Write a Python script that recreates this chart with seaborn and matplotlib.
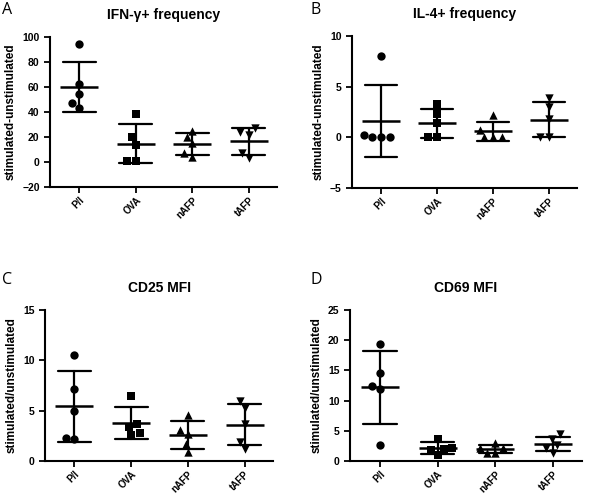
import numpy as np
import pandas as pd
import matplotlib
matplotlib.use("Agg")
import matplotlib.pyplot as plt
import seaborn as sns

sns.set_style("ticks")
plt.rcParams['font.family'] = ['Liberation Sans', 'DejaVu Sans']
plt.rcParams.update({"text.color": "black", "axes.labelcolor": "black",
                     "xtick.color": "black", "ytick.color": "black",
                     "axes.edgecolor": "black"})

groups = ["P/I", "OVA", "nAFP", "tAFP"]
markers = ["o", "s", "^", "v"]

# values, 5 per group
ifng = {
    "P/I": [94, 62, 54, 47, 43],
    "OVA": [38, 20, 14, 1, 1],
    "nAFP": [25, 20, 15, 7, 4],
    "tAFP": [27, 24, 22, 7, 3],
}
il4 = {
    "P/I": [8.0, 0.05, 0.0, 0.0, 0.2],
    "OVA": [3.3, 2.3, 1.4, 0.0, 0.0],
    "nAFP": [2.2, 0.7, 0.0, 0.0, 0.0],
    "tAFP": [3.9, 3.0, 1.8, 0.0, 0.0],
}
cd25 = {
    "P/I": [10.5, 7.2, 5.0, 2.2, 2.3],
    "OVA": [6.5, 3.7, 3.4, 2.8, 2.6],
    "nAFP": [4.6, 3.1, 2.7, 1.7, 0.9],
    "tAFP": [6.0, 5.3, 3.7, 1.9, 1.2],
}
cd69 = {
    "P/I": [19.3, 14.5, 12.5, 12.0, 2.6],
    "OVA": [3.7, 2.1, 2.0, 1.9, 1.0],
    "nAFP": [3.0, 2.1, 2.1, 1.3, 1.3],
    "tAFP": [4.4, 3.7, 2.6, 2.1, 1.4],
}

panels = [
    ("A", "IFN-\u03b3+ frequency", ifng, "stimulated-unstimulated", (-20, 100), np.arange(-20, 101, 20),
     [50, 37, 227, 150]),
    ("B", "IL-4+ frequency", il4, "stimulated-unstimulated", (-5, 10), [-5, 0, 5, 10],
     [352, 36, 225, 152]),
    ("C", "CD25 MFI", cd25, "stimulated/unstimulated", (0, 15), [0, 5, 10, 15],
     [45, 310, 228, 151]),
    ("D", "CD69 MFI", cd69, "stimulated/unstimulated", (0, 25), [0, 5, 10, 15, 20, 25],
     [350, 310, 232, 151]),
]

W, H = 600, 496
fig = plt.figure(figsize=(W / 100, H / 100), dpi=100)

for letter, title, data, ylab, ylim, yticks, (px, py, pw, ph) in panels:
    ax = fig.add_axes([px / W, 1 - (py + ph) / H, pw / W, ph / H])
    df = pd.DataFrame([(g, v) for g in groups for v in data[g]], columns=["group", "value"])

    for g, m in zip(groups, markers):
        sns.swarmplot(data=df[df.group == g], x="group", y="value", order=groups,
                      marker=m, color="black", size=6, ax=ax, zorder=2)

    sns.pointplot(data=df, x="group", y="value", order=groups, errorbar="sd",
                  estimator="mean", color="black", markers="_", linestyle="none",
                  capsize=0.58, err_kws={"linewidth": 1.6},
                  markersize=27, markeredgewidth=1.8, ax=ax, zorder=3)

    ax.set_xlim(-0.52, 3.5)
    ax.set_ylim(*ylim)
    ax.set_yticks(yticks)
    ax.set_xlabel("")
    ax.set_ylabel(ylab, fontsize=8.5, fontweight="bold")
    ax.set_title(title, fontsize=10, fontweight="bold", pad=13)
    ax.tick_params(axis="both", width=1.3, length=4, labelsize=7.5)
    ax.tick_params(axis="x", labelsize=7, pad=2)
    for lbl in ax.get_xticklabels() + ax.get_yticklabels():
        lbl.set_fontweight("bold")
    plt.setp(ax.get_xticklabels(), rotation=45, ha="right", rotation_mode="anchor")
    for s in ["left", "bottom"]:
        ax.spines[s].set_linewidth(1.5)
    sns.despine(ax=ax)

    lx = 2 if letter in "AC" else 310
    ly = 10 if letter in "AB" else 280
    fig.text(lx / W, 1 - ly / H, letter, fontsize=11.5, family="Open Sans", va="center", ha="left")

fig.savefig("out.png", dpi=100)
